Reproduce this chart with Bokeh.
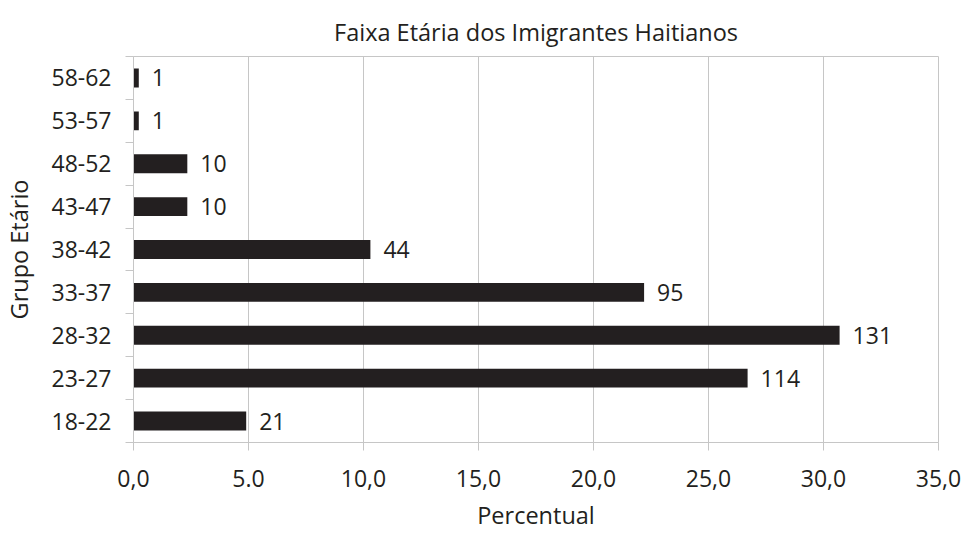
from bokeh.plotting import figure
from bokeh.models import ColumnDataSource, Range1d, FixedTicker
from bokeh.embed import file_html
from bokeh.resources import INLINE
from bokeh.core.properties import value

# Data
groups = ["18-22", "23-27", "28-32", "33-37", "38-42", "43-47", "48-52", "53-57", "58-62"]
percent = [4.9, 26.7, 30.7, 22.2, 10.3, 2.34, 2.34, 0.23, 0.23]
counts = [21, 114, 131, 95, 44, 10, 10, 1, 1]
x_ticks = [0, 5, 10, 15, 20, 25, 30, 35]
x_tick_labels = ["0,0", "5.0", "10,0", "15,0", "20,0", "25,0", "30,0", "35,0"]
title_text = "Faixa Etária dos Imigrantes Haitianos"

FONT = "Open Sans"
TXT = "#231f20"
GRID = "#c6c6c6"

ypos = [i + 0.5 for i in range(len(groups))]
src = ColumnDataSource(dict(y=ypos, pct=percent, lbl=[str(c) for c in counts]))

p = figure(width=970, height=534, output_backend="svg", toolbar_location=None,
           x_range=Range1d(0, 35), y_range=Range1d(0, len(groups)),
           min_border_left=131, min_border_right=32, min_border_top=56, min_border_bottom=92)

p.hbar(y="y", right="pct", left=0, height=0.44, source=src, fill_color=TXT, line_color=None)
p.text(x="pct", y="y", text="lbl", source=src, x_offset=13, text_baseline="middle",
       text_align="left", text_font=value(FONT), text_font_size="23px", text_color=TXT)

# title
p.title.text = title_text
p.title.align = "center"
p.title.text_font = FONT
p.title.text_font_size = "23.5px"
p.title.text_font_style = "normal"
p.title.text_color = TXT
p.title.standoff = 18
p.title.offset = -7

# x axis
xa = p.xaxis[0]
xa.ticker = FixedTicker(ticks=x_ticks, minor_ticks=[])
xa.major_label_overrides = {t: l for t, l in zip(x_ticks, x_tick_labels)}
xa.axis_label = "Percentual"
xa.axis_label_text_font = FONT
xa.axis_label_text_font_size = "23.5px"
xa.axis_label_text_font_style = "normal"
xa.axis_label_text_color = TXT
xa.axis_label_standoff = 9
xa.major_label_text_font = FONT
xa.major_label_text_font_size = "23px"
xa.major_label_text_color = TXT
xa.major_label_standoff = 19
xa.axis_line_color = GRID
xa.major_tick_line_color = GRID
xa.major_tick_out = 8
xa.major_tick_in = 0
xa.minor_tick_line_color = None

# y axis
ya = p.yaxis[0]
ya.ticker = FixedTicker(ticks=ypos, minor_ticks=list(range(len(groups) + 1)))
ya.major_label_overrides = {y: g for y, g in zip(ypos, groups)}
ya.axis_label = "Grupo Etário"
ya.axis_label_text_font = FONT
ya.axis_label_text_font_size = "23.5px"
ya.axis_label_text_font_style = "normal"
ya.axis_label_text_color = TXT
ya.axis_label_standoff = 13
ya.major_label_text_font = FONT
ya.major_label_text_font_size = "23px"
ya.major_label_text_color = TXT
ya.major_tick_line_color = None
ya.major_tick_out = 0
ya.major_label_standoff = 14
ya.minor_tick_line_color = GRID
ya.minor_tick_out = 8
ya.minor_tick_in = 0
ya.axis_line_color = GRID

p.xgrid.grid_line_color = GRID
p.ygrid.grid_line_color = None
p.outline_line_color = GRID

open("out.html", "w").write(file_html(p, INLINE))
